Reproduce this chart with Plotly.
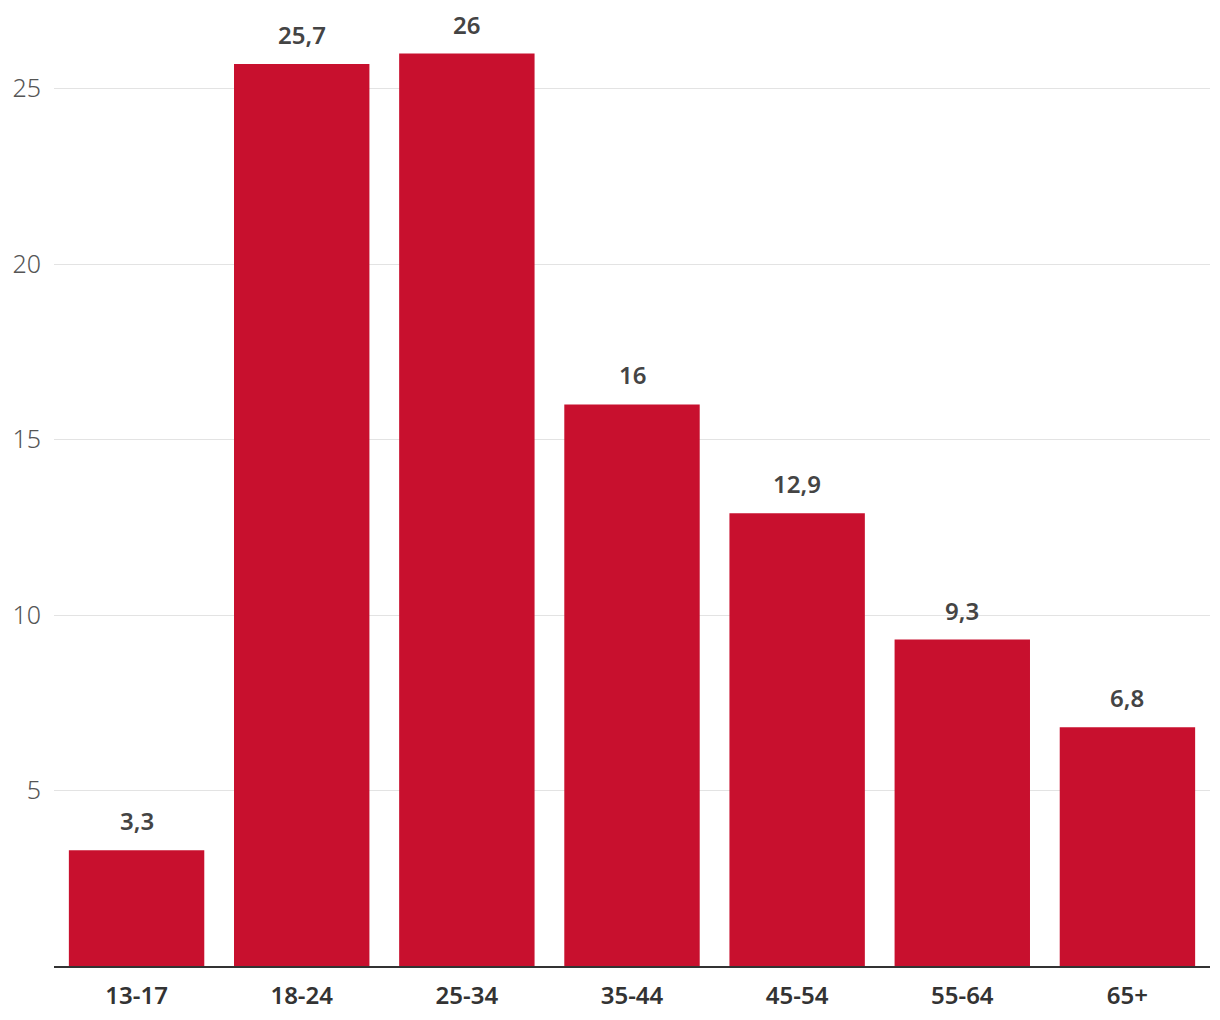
import plotly.graph_objects as go

categories = ["13-17", "18-24", "25-34", "35-44", "45-54", "55-64", "65+"]
values = [3.3, 25.7, 26, 16, 12.9, 9.3, 6.8]
y_ticks = [5, 10, 15, 20, 25]

labels = [(f"{v:g}").replace(".", ",") for v in values]

fig = go.Figure()
fig.add_trace(go.Bar(
    x=categories, y=values,
    marker=dict(color="#C8102E", line=dict(width=0)),
    hoverinfo="skip",
))

for c, v, t in zip(categories, values, labels):
    fig.add_annotation(
        x=c, y=v, text=t, showarrow=False, yanchor="bottom", yshift=11,
        font=dict(family="Noto Sans", size=24, color="#444444", weight=600),
    )

fig.update_layout(
    width=1204, height=1004, autosize=False,
    margin=dict(l=46, r=2, t=2, b=46),
    paper_bgcolor="white", plot_bgcolor="white",
    bargap=0.18, showlegend=False,
)
fig.update_xaxes(
    showgrid=False, showline=True, linecolor="#333333", linewidth=2,
    ticks="", tickfont=dict(family="Noto Sans", size=24, color="#333333", weight=600),
    ticklabelstandoff=7,
)
fig.update_yaxes(
    range=[0, 27.24], tickvals=y_ticks, showgrid=True, gridcolor="#e3e3e3", gridwidth=1,
    zeroline=False, showline=False, ticks="",
    tickfont=dict(family="Noto Sans", size=25, color="#555555", weight=300),
    ticklabelstandoff=12,
)

fig.write_html("out.html")
